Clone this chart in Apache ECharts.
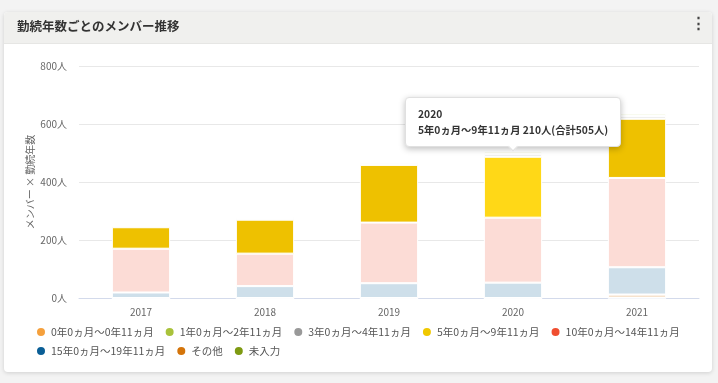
<!DOCTYPE html>
<html><head><meta charset="utf-8">
<script src="https://cdn.jsdelivr.net/npm/echarts@6/dist/echarts.min.js"></script>
<style>html,body{margin:0;padding:0;background:#F3F3F3;}#c{width:718px;height:383px;}</style>
</head><body><div id="c"></div>
<script>
const categories = ['2017','2018','2019','2020','2021'];
const yTicks = [0,200,400,600,800];
const seriesNames = ['0年0ヵ月～0年11ヵ月','1年0ヵ月～2年11ヵ月','3年0ヵ月～4年11ヵ月','5年0ヵ月～9年11ヵ月','10年0ヵ月～14年11ヵ月','15年0ヵ月～19年11ヵ月','その他','未入力'];
const fullColors = ['#F5A03C','#A9C23B','#999999','#F0C800','#F04E30','#0A5E96','#D4740A','#7E9A12'];
const barColors  = ['#FDECD8','#EEF3D8','#EBEBEB','#EEC100','#FCDCD6','#CEDFEA','#F6E3CE','#E5EBD0'];
const v0  = [0,0,0,0,0];
const v1  = [3,4,6,8,8];
const v3  = [5,6,7,10,10];
const v5  = [74,117,199,210,204];
const v10 = [151,112,209,224,308];
const v15 = [19,41,51,53,94];
const vOther = [0,0,0,0,12];
const vNone  = [0,0,0,0,0];
const values = [v0,v1,v3,v5,v10,v15,vOther,vNone];
const hoverIndex = 3; // 2020
const hoverSeries = 3; // 5年

const totals = categories.map((_,i)=>values.reduce((s,a)=>s+a[i],0));
const stackOrder = [7,6,5,4,3,2,1,0];
const series = stackOrder.map(k => ({
  name: seriesNames[k], type:'bar', stack:'t', barWidth:'47%',
  itemStyle:{color:barColors[k], borderColor:'#fff', borderWidth:1},
  emphasis:{disabled:true},
  data: values[k].map((v,i)=> (k===hoverSeries && i===hoverIndex) ? {value:v, itemStyle:{color:'#FFD817'}} : v)
}));
const legendBase = {icon:'circle', itemWidth:10, itemHeight:10, itemGap:10, orient:'horizontal',
  textStyle:{fontSize:10.5, color:'#555'}};
const legendItems = seriesNames.map((n,k)=>({name:n, itemStyle:{color:fullColors[k], opacity:1}}));
const chart = echarts.init(document.getElementById('c'));
chart.setOption({
  animation:false,
  textStyle:{fontFamily:"'Noto Sans CJK JP','Noto Sans',sans-serif"},
  graphic:[
    {type:'rect', shape:{x:4,y:12,width:708,height:360,r:4}, style:{fill:'#fff', shadowBlur:4, shadowColor:'rgba(0,0,0,0.15)', shadowOffsetY:1}, z:-10},
    {type:'rect', shape:{x:4,y:12,width:708,height:31,r:[4,4,0,0]}, style:{fill:'#F0F0EE'}, z:-9},
    {type:'rect', shape:{x:4,y:43,width:708,height:1}, style:{fill:'#E6E6E4'}, z:-9},
    {type:'text', left:691, top:16, style:{text:'⋮', fontSize:15, fill:'#444', fontWeight:'bold'}}
  ],
  title:{text:'勤続年数ごとのメンバー推移', left:12, top:15, textStyle:{fontSize:12.5, fontWeight:'bold', color:'#333'}},
  tooltip:{trigger:'item', position:'top', transitionDuration:0, backgroundColor:'#fff', borderColor:'#e0e0e0', borderWidth:1, padding:[8,12],
    textStyle:{fontSize:10.3, color:'#333', fontWeight:'bold'},
    extraCssText:'box-shadow:0 2px 6px rgba(0,0,0,0.25);border-radius:4px;line-height:16px;',
    formatter:p=>{const i=p.dataIndex; return categories[i]+'<br/>'+p.seriesName+' '+p.value+'人(合計'+totals[i]+'人)';}},
  legend:[
    Object.assign({left:30, top:321, data:legendItems.slice(0,5)}, legendBase),
    Object.assign({left:30, top:340, data:legendItems.slice(5)}, legendBase)
  ],
  grid:{left:79, right:19, top:66, bottom:85},
  xAxis:{type:'category', data:categories, axisTick:{show:false},
    axisLine:{lineStyle:{color:'#D3DAEB'}}, axisLabel:{color:'#666', fontSize:10, margin:9}},
  yAxis:{type:'value', min:yTicks[0], max:yTicks[yTicks.length-1], interval:yTicks[1]-yTicks[0],
    name:'メンバー × 勤続年数', nameLocation:'middle', nameGap:44, nameRotate:90, nameMoveOverlap:false,
    nameTextStyle:{color:'#666', fontSize:10},
    axisLabel:{formatter:'{value}人', color:'#666', fontSize:10, margin:12},
    splitLine:{lineStyle:{color:'#E8E8E8'}}},
  series
});
chart.dispatchAction({type:'showTip', seriesIndex: stackOrder.indexOf(hoverSeries), dataIndex: hoverIndex});
</script></body></html>
